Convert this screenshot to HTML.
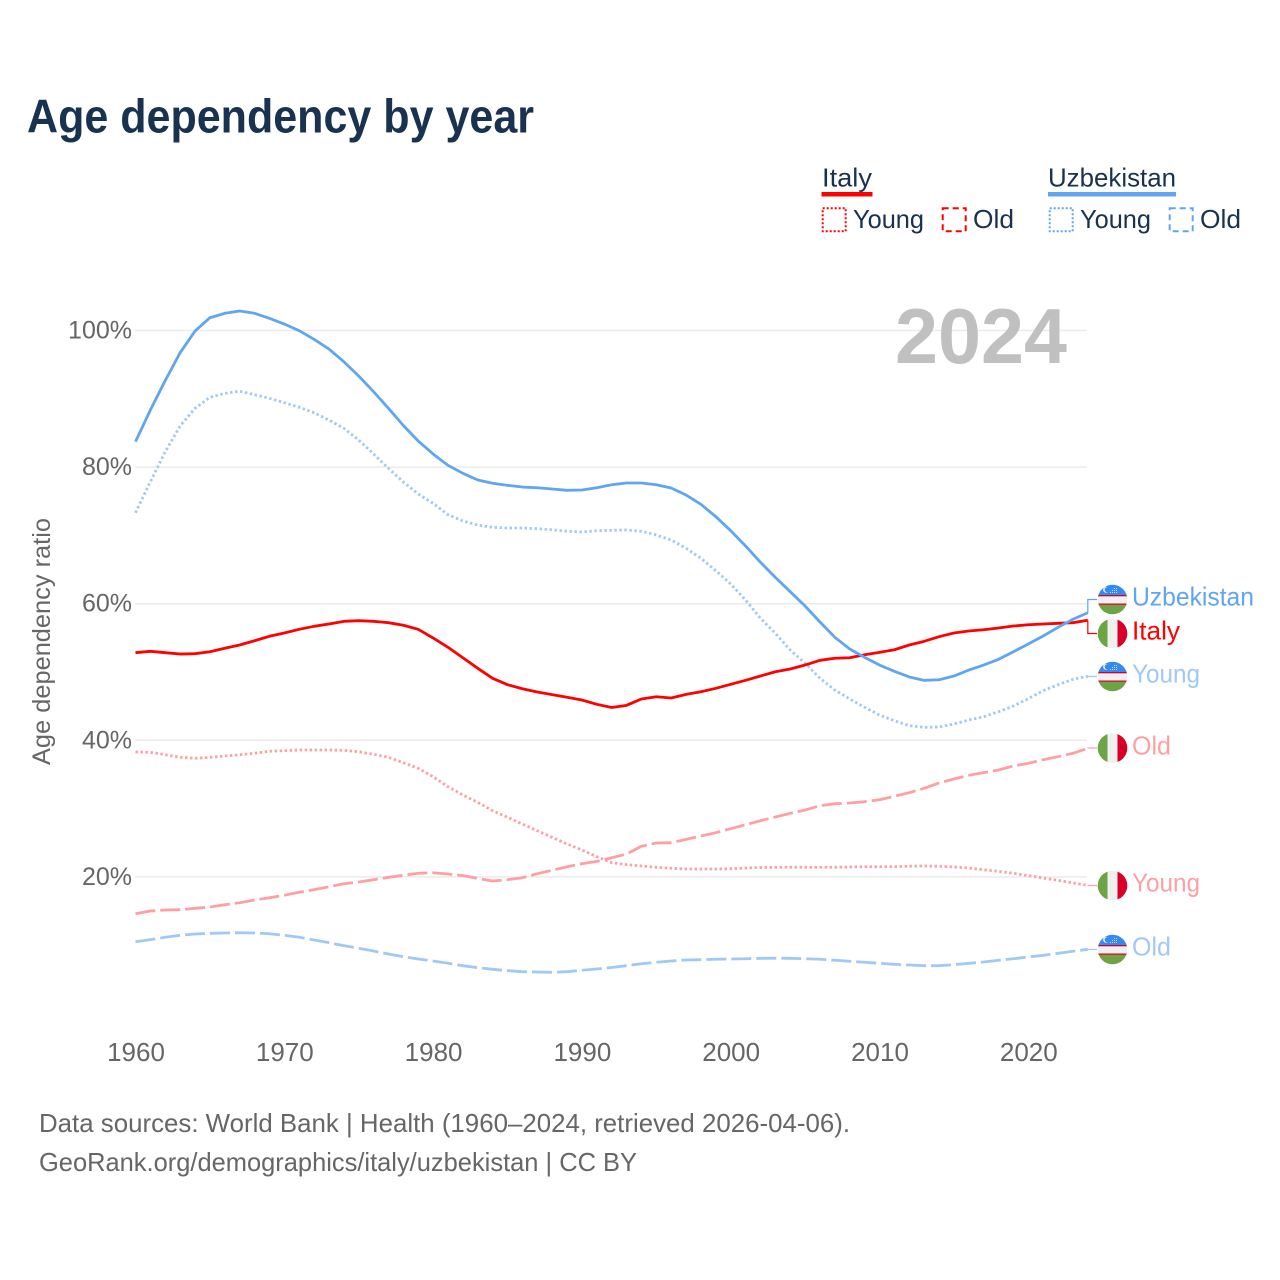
<!DOCTYPE html>
<html lang="en">
<head>
<meta charset="utf-8">
<title>Age dependency by year</title>
<style>
html,body{margin:0;padding:0;background:#fff;width:1280px;height:1280px;overflow:hidden}
svg{display:block;font-family:"Liberation Sans",sans-serif}
</style>
</head>
<body>
<svg id="chart" xmlns="http://www.w3.org/2000/svg" width="1280" height="1280" viewBox="0 0 1280 1280">
<defs>
<clipPath id="flag-clip"><circle cx="0" cy="0" r="14.8"/></clipPath>
<g id="flag-uz" clip-path="url(#flag-clip)">
<rect x="-15" y="-15" width="30" height="10.5" fill="#338af3"/>
<rect x="-15" y="-4.5" width="30" height="1.4" fill="#d80027"/>
<rect x="-15" y="-3.1" width="30" height="7.1" fill="#f0f0f0"/>
<rect x="-15" y="4" width="30" height="1.4" fill="#d80027"/>
<rect x="-15" y="5.4" width="30" height="10" fill="#6da544"/>
<circle cx="-6.4" cy="-9.8" r="3" fill="#f0f0f0"/>
<circle cx="-5.2" cy="-9.8" r="2.6" fill="#338af3"/>
<g fill="#f0f0f0">
<circle cx="-2" cy="-7" r=".55"/><circle cx="0" cy="-7" r=".55"/><circle cx="2" cy="-7" r=".55"/><circle cx="4" cy="-7" r=".55"/>
<circle cx="0" cy="-9" r=".55"/><circle cx="2" cy="-9" r=".55"/><circle cx="4" cy="-9" r=".55"/>
<circle cx="2" cy="-11" r=".55"/><circle cx="4" cy="-11" r=".55"/>
</g>
</g>
<g id="flag-it" clip-path="url(#flag-clip)">
<rect x="-15" y="-15" width="10" height="30" fill="#6da544"/>
<rect x="-5" y="-15" width="10" height="30" fill="#f0f0f0"/>
<rect x="5" y="-15" width="10" height="30" fill="#d80027"/>
</g>
</defs>

<text x="27" y="132.5" font-size="47" font-weight="700" fill="#18324f" textLength="507" lengthAdjust="spacingAndGlyphs">Age dependency by year</text>

<g fill="#18324f" font-size="26">
<text x="822" y="186.5" textLength="50" lengthAdjust="spacingAndGlyphs">Italy</text>
<rect x="821.5" y="192" width="51" height="4.5" fill="#ff0000"/>
<rect x="822.7" y="208.3" width="23" height="23" fill="none" stroke="#ff0000" stroke-width="2" stroke-dasharray="2 2"/>
<text x="853" y="228" textLength="71" lengthAdjust="spacingAndGlyphs">Young</text>
<rect x="942.7" y="208.3" width="23" height="23" fill="none" stroke="#ff0000" stroke-width="2" stroke-dasharray="6 4"/>
<text x="973" y="228" textLength="41" lengthAdjust="spacingAndGlyphs">Old</text>
<text x="1048" y="186.5" textLength="128" lengthAdjust="spacingAndGlyphs">Uzbekistan</text>
<rect x="1048" y="192" width="128" height="4.5" fill="#60a5f0"/>
<rect x="1049.7" y="208.3" width="23" height="23" fill="none" stroke="#60a5f0" stroke-width="2" stroke-dasharray="2 2"/>
<text x="1080" y="228" textLength="71" lengthAdjust="spacingAndGlyphs">Young</text>
<rect x="1169.7" y="208.3" width="23" height="23" fill="none" stroke="#60a5f0" stroke-width="2" stroke-dasharray="6 4"/>
<text x="1200" y="228" textLength="41" lengthAdjust="spacingAndGlyphs">Old</text>
</g>

<text transform="translate(50 765) rotate(-90)" font-size="25" fill="#666666" textLength="247" lengthAdjust="spacingAndGlyphs">Age dependency ratio</text>

<g id="grid"></g>
<g id="y-ticks"></g>
<g id="x-ticks"></g>

<text x="895" y="363" font-size="78" font-weight="700" fill="#c0c0c0" textLength="172" lengthAdjust="spacingAndGlyphs">2024</text>

<g id="series"></g>

<use href="#flag-uz" x="1112.5" y="599.5"/>
<use href="#flag-it" x="1112.5" y="633.5"/>
<use href="#flag-uz" x="1112.5" y="676.5"/>
<use href="#flag-it" x="1112.5" y="748"/>
<use href="#flag-it" x="1112.5" y="885.5"/>
<use href="#flag-uz" x="1112.5" y="949.5"/>

<g font-size="26">
<text x="1132" y="605.5" fill="#60a5f0" textLength="122" lengthAdjust="spacingAndGlyphs">Uzbekistan</text>
<text x="1132" y="639.5" fill="#ff0000" textLength="48" lengthAdjust="spacingAndGlyphs">Italy</text>
<text x="1132" y="682.5" fill="#a0c9f5" textLength="68" lengthAdjust="spacingAndGlyphs">Young</text>
<text x="1132" y="754.5" fill="#ff9fa3" textLength="39" lengthAdjust="spacingAndGlyphs">Old</text>
<text x="1132" y="891.5" fill="#ff9fa3" textLength="68" lengthAdjust="spacingAndGlyphs">Young</text>
<text x="1132" y="955.5" fill="#a0c9f5" textLength="39" lengthAdjust="spacingAndGlyphs">Old</text>
</g>

<g font-size="26" fill="#666666">
<text x="39" y="1132" textLength="811" lengthAdjust="spacingAndGlyphs">Data sources: World Bank | Health (1960–2024, retrieved 2026-04-06).</text>
<text x="39" y="1171" textLength="598" lengthAdjust="spacingAndGlyphs">GeoRank.org/demographics/italy/uzbekistan | CC BY</text>
</g>
</svg>

<script>
const firstYear = 1960;
const xTickLabels = [1960, 1970, 1980, 1990, 2000, 2010, 2020];
const yTickLabels = [20, 40, 60, 80, 100];

const uzbekistanTotal = [83.72,88.36,92.68,96.75,99.92,101.87,102.52,102.85,102.52,101.78,100.95,99.97,98.71,97.29,95.43,93.34,91.04,88.61,86.09,83.82,81.92,80.26,79.09,78.11,77.63,77.33,77.08,76.98,76.79,76.60,76.65,76.98,77.42,77.67,77.67,77.42,76.94,75.91,74.55,72.74,70.69,68.45,66.06,63.86,61.76,59.66,57.32,55.08,53.37,52.15,51.02,50.10,49.27,48.78,48.87,49.41,50.29,51.02,51.86,52.97,54.10,55.27,56.54,57.72,58.68];
const italyTotal = [52.83,53.03,52.83,52.63,52.68,52.97,53.47,53.95,54.58,55.23,55.71,56.25,56.69,57.03,57.42,57.51,57.42,57.22,56.84,56.25,54.98,53.62,52.09,50.54,49.08,48.14,47.55,47.07,46.68,46.30,45.90,45.27,44.80,45.12,46.05,46.38,46.19,46.73,47.11,47.61,48.20,48.78,49.41,50.04,50.44,51.02,51.71,52.01,52.09,52.53,52.88,53.26,53.95,54.49,55.17,55.71,56.00,56.19,56.44,56.73,56.92,57.03,57.13,57.22,57.57];
const uzbekistanYoung = [73.32,77.86,82.25,86.02,88.61,90.22,90.80,91.10,90.60,90.07,89.43,88.76,87.96,86.89,85.68,83.97,81.92,79.82,77.82,76.06,74.70,73.03,72.11,71.52,71.18,71.08,71.08,70.98,70.83,70.60,70.50,70.69,70.74,70.79,70.60,70.06,69.33,68.11,66.65,64.83,62.88,60.54,57.86,55.67,53.22,51.27,49.08,47.36,46.05,44.83,43.70,42.87,42.14,41.90,41.95,42.39,42.97,43.45,44.19,45.02,46.09,47.26,48.14,48.93,49.37];
const italyYoung = [38.29,38.24,37.89,37.51,37.36,37.51,37.70,37.89,38.10,38.39,38.48,38.58,38.58,38.58,38.53,38.33,37.95,37.51,36.72,35.90,34.67,33.21,31.99,30.92,29.69,28.73,27.74,26.76,25.80,24.82,23.94,22.96,22.08,21.79,21.60,21.41,21.26,21.16,21.16,21.16,21.19,21.30,21.38,21.41,21.41,21.41,21.41,21.41,21.45,21.49,21.49,21.49,21.57,21.60,21.55,21.45,21.30,21.05,20.82,20.53,20.18,19.84,19.50,19.11,18.77];
const italyOld = [14.61,15.01,15.15,15.20,15.40,15.59,15.93,16.22,16.62,16.95,17.31,17.75,18.13,18.56,19.00,19.25,19.59,19.94,20.23,20.53,20.61,20.42,20.18,19.79,19.40,19.59,19.88,20.47,20.97,21.49,21.93,22.28,22.80,23.35,24.48,24.96,25.01,25.50,25.99,26.47,27.06,27.64,28.23,28.77,29.31,29.79,30.42,30.72,30.82,31.01,31.30,31.80,32.33,32.97,33.75,34.33,34.88,35.26,35.65,36.24,36.63,37.16,37.60,38.10,38.83];
const uzbekistanOld = [10.51,10.81,11.16,11.45,11.64,11.74,11.79,11.82,11.79,11.68,11.45,11.16,10.76,10.37,9.93,9.55,9.15,8.71,8.32,7.98,7.69,7.35,7.00,6.71,6.47,6.27,6.12,6.08,6.03,6.12,6.33,6.52,6.73,7.00,7.29,7.50,7.69,7.83,7.88,7.94,7.98,8.02,8.08,8.10,8.08,8.02,7.94,7.79,7.64,7.50,7.35,7.20,7.10,7.00,7.00,7.14,7.35,7.54,7.79,8.02,8.27,8.52,8.81,9.11,9.40];

const NS = 'http://www.w3.org/2000/svg';
function xScale(year) { return 135.5 + (year - 1960) * 14.88; }
function yScale(value) { return 1013.5 - value * 6.83; }
function make(tag, attrs, parent) {
  const el = document.createElementNS(NS, tag);
  for (const k in attrs) el.setAttribute(k, attrs[k]);
  parent.appendChild(el);
  return el;
}

const gridGroup = document.getElementById('grid');
const yTickGroup = document.getElementById('y-ticks');
yTickLabels.forEach(function (v) {
  const line = make('line', {x1: 135, x2: 1087, y1: yScale(v), y2: yScale(v), stroke: '#ebebeb', 'stroke-width': 1.5}, gridGroup);
  
  
  const label = make('text', {x: 132, y: yScale(v) + 8, 'text-anchor': 'end', 'font-size': 25, fill: '#666666'}, yTickGroup);
  label.textContent = v + '%';
  
  
});

const xTickGroup = document.getElementById('x-ticks');
xTickLabels.forEach(function (yr) {
  const label = make('text', {x: xScale(yr) + 0.5, y: 1061, 'text-anchor': 'middle', 'font-size': 26, fill: '#666666'}, xTickGroup);
  label.textContent = yr;
  
  
});

const seriesGroup = document.getElementById('series');
function drawSeries(values, color, width, dash, labelY, lineName, connectorName) {
  const pts = values.map(function (v, i) { return xScale(firstYear + i).toFixed(2) + ',' + yScale(v).toFixed(2); });
  const attrs = {d: 'M' + pts.join('L'), fill: 'none', stroke: color, 'stroke-width': width, 'stroke-linejoin': 'round'};
  if (dash) attrs['stroke-dasharray'] = dash;
  const path = make('path', attrs, seriesGroup);
  
  
  const endX = xScale(firstYear + values.length - 1);
  const endY = yScale(values[values.length - 1]);
  const conn = make('path', {d: 'M' + endX.toFixed(2) + ' ' + endY.toFixed(2) + 'V' + labelY + 'H1097', fill: 'none', stroke: color, 'stroke-width': 1.2}, seriesGroup);
  
  
}

drawSeries(uzbekistanOld, '#a0c9f5', 2.8, '20 5', 949.5, 'line-uzbekistan-old', 'connector-uzbekistan-old');
drawSeries(italyOld, '#ff9fa3', 2.8, '20 5', 748, 'line-italy-old', 'connector-italy-old');
drawSeries(italyYoung, '#ff9fa3', 2.8, '2.4 2.6', 885.5, 'line-italy-young', 'connector-italy-young');
drawSeries(uzbekistanYoung, '#a0c9f5', 2.8, '2.4 2.6', 676.5, 'line-uzbekistan-young', 'connector-uzbekistan-young');
drawSeries(italyTotal, '#ff0000', 2.8, '', 633.5, 'line-italy-total', 'connector-italy-total');
drawSeries(uzbekistanTotal, '#60a5f0', 2.8, '', 599.5, 'line-uzbekistan-total', 'connector-uzbekistan-total');
</script>
</body>
</html>
